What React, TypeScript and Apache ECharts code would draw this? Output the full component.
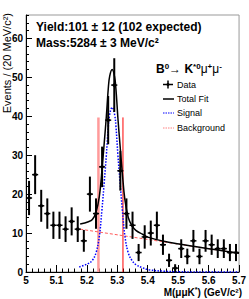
import React, { useEffect, useRef } from "react";
import * as echarts from "echarts";

const FONT = "'Liberation Sans', Arial, Helvetica, sans-serif";

// Histogram bins (20 MeV wide) — centres, counts, errors
const binCenters = [
  5.01, 5.03, 5.05, 5.07, 5.09, 5.11, 5.13, 5.15, 5.17, 5.19,
  5.21, 5.23, 5.25, 5.27, 5.29, 5.31, 5.33, 5.35, 5.37, 5.39,
  5.41, 5.43, 5.45, 5.47, 5.49, 5.51, 5.53, 5.55, 5.57, 5.59,
  5.61, 5.63, 5.65, 5.67, 5.69,
];
const counts = [
  19, 25, 17, 15, 12, 12, 11, 13, 11, 8,
  20, 15, 27, 39, 48, 26, 15, 12, 5, 9,
  10, 12, 7, 3, 1, 6, 4, 8, 4, 8,
  7, 6, 6, 5, 5,
];
const errors = [
  4.4, 5.0, 4.1, 3.9, 3.5, 3.5, 3.3, 3.6, 3.3, 2.8,
  4.5, 3.9, 5.2, 6.2, 6.9, 5.1, 3.9, 3.5, 2.2, 3.0,
  3.2, 3.5, 2.6, 1.7, 1.0, 2.4, 2.0, 2.8, 2.0, 2.8,
  2.6, 2.4, 2.4, 2.2, 2.2,
];
const binHalfWidth = 0.01;

// Signal curve (blue dotted)
const sigX = [5.175, 5.205, 5.218, 5.23, 5.241, 5.2495, 5.2575, 5.264, 5.2705, 5.275, 5.283, 5.291, 5.2955, 5.302, 5.3085, 5.3165, 5.325, 5.336, 5.348, 5.361, 5.383, 5.403, 5.453, 5.503, 5.55, 5.7];
const sigY = [1.3, 2.2, 3.0, 4.9, 9.2, 16, 23.5, 30, 37.4, 40.5, 42.3, 40.5, 37.4, 30, 23.5, 16, 9.2, 4.9, 3.0, 1.9, 1.1, 0.6, 0.2, 0.05, 0, 0];

// Total fit (black)
const totX = [5.178, 5.205, 5.218, 5.23, 5.241, 5.2495, 5.2575, 5.264, 5.2705, 5.275, 5.283, 5.291, 5.2955, 5.302, 5.3085, 5.3165, 5.325, 5.336, 5.348, 5.361, 5.383, 5.403, 5.453, 5.503, 5.55, 5.6, 5.65, 5.7];
const totY = [12.3, 12.9, 13.5, 15.3, 19.4, 26.1, 33.6, 40.0, 47.3, 50.3, 52.0, 50.2, 47.0, 39.5, 33.0, 25.4, 18.5, 14.0, 11.9, 10.7, 9.7, 8.9, 7.9, 7.2, 6.6, 6.0, 5.4, 4.8];

// Background (red dashed straight line)
const bgX = [5.178, 5.7];
const bgY = [11.0, 4.8];

// Signal window lines
const windowLo = 5.238;
const windowHi = 5.3186;
const windowTop = 39.7;

const yMajor = [0, 10, 20, 30, 40, 50, 60];

const zip = (xs: number[], ys: number[]) => xs.map((x, i) => [x, ys[i]]);

export default function App() {
  const ref = useRef<HTMLDivElement>(null);
  useEffect(() => {
    const chart = echarts.init(ref.current!, null, { renderer: "svg" });
    const axisLineStyle = { color: "#000", width: 1 };
    const option: any = {
      animation: false,
      backgroundColor: "#fff",
      grid: { left: 26, right: 7, top: 15, bottom: 27, show: true, borderColor: "#999", borderWidth: 1, backgroundColor: "transparent" },
      xAxis: {
        type: "value", min: 5.0, max: 5.7, interval: 0.1,
        axisLine: { onZero: false, lineStyle: axisLineStyle },
        axisTick: { inside: true, length: 7, lineStyle: axisLineStyle },
        minorTick: { show: true, splitNumber: 5, length: 3.5, lineStyle: axisLineStyle },
        axisLabel: {
          formatter: (v: number) => String(Math.round(v * 10) / 10),
          fontWeight: "bold", fontSize: 10, color: "#000", fontFamily: FONT, margin: 3,
          showMinLabel: true, showMaxLabel: true,
        },
        splitLine: { show: false },
      },
      yAxis: [
        {
          type: "value", min: 0, max: 66, interval: 2,
          axisLine: { onZero: false, lineStyle: axisLineStyle },
          axisTick: { inside: true, length: 6, lineStyle: axisLineStyle, customValues: yMajor },
          axisLabel: { customValues: yMajor, fontWeight: "bold", fontSize: 10, color: "#000", fontFamily: FONT, margin: 3 },
          splitLine: { show: false },
        },
        {
          type: "value", min: 0, max: 66, interval: 2, position: "left",
          axisLine: { show: false },
          axisTick: { inside: true, length: 3, lineStyle: axisLineStyle },
          axisLabel: { show: false },
          splitLine: { show: false },
        },
      ],
      series: [
        {
          type: "line", data: [[windowLo, 0], [windowLo, windowTop]], symbol: "none", z: 2,
          lineStyle: { color: "#ff9a9a", width: 2.5 },
        },
        {
          type: "line", data: [[windowHi, 0], [windowHi, windowTop]], symbol: "none", z: 2,
          lineStyle: { color: "#ff0000", width: 1 },
        },
        {
          type: "line", data: zip(bgX, bgY), symbol: "none", z: 3,
          lineStyle: { color: "#ff5a5a", width: 1, type: [3, 2] },
        },
        {
          type: "line", data: zip(sigX, sigY), symbol: "none", smooth: 0.4, z: 4,
          lineStyle: { color: "#0000ff", width: 1.5, type: [1.5, 1.5] },
        },
        {
          type: "line", data: zip(totX, totY), symbol: "none", smooth: 0.4, z: 5,
          lineStyle: { color: "#000", width: 1.5 },
        },
        {
          type: "custom", z: 10,
          data: binCenters.map((x, i) => [x, counts[i], errors[i]]),
          encode: { x: 0, y: 1 },
          renderItem: (params: any, api: any) => {
            const x = api.value(0), y = api.value(1), e = api.value(2);
            const c = api.coord([x, y]);
            const t = api.coord([x, y + e]);
            const b = api.coord([x, Math.max(0, y - e)]);
            const l = api.coord([x - binHalfWidth, y]);
            const r = api.coord([x + binHalfWidth, y]);
            return {
              type: "group",
              children: [
                { type: "line", shape: { x1: c[0], y1: t[1], x2: c[0], y2: b[1] }, style: { stroke: "#000", lineWidth: 2 } },
                { type: "line", shape: { x1: l[0], y1: c[1], x2: r[0], y2: c[1] }, style: { stroke: "#000", lineWidth: 1.5 } },
                { type: "circle", shape: { cx: c[0], cy: c[1], r: 1.8 }, style: { fill: "#000" } },
              ],
            };
          },
        },
      ],
      graphic: [
        {
          type: "text", x: 36, y: 27,
          style: { text: "Yield:101 ± 12 (102 expected)", font: `bold 12px ${FONT}`, fill: "#000", verticalAlign: "middle" },
        },
        {
          type: "text", x: 36, y: 43,
          style: { text: "Mass:5284 ± 3 MeV/c²", font: `bold 12px ${FONT}`, fill: "#000", verticalAlign: "middle" },
        },
        {
          type: "text", x: 7, y: 13, rotation: Math.PI / 2,
          style: { text: "Events / (20 MeV/c²)", font: `11px ${FONT}`, fill: "#000", align: "right", verticalAlign: "middle" },
        },
        {
          type: "text", x: 242, y: 292,
          style: {
            text: "{a|M(μμK}{s|*}{a|) (GeV/c²)}", align: "right", verticalAlign: "middle", fill: "#000",
            rich: {
              a: { fontSize: 10, fontFamily: FONT, fontWeight: "bold", fill: "#000", lineHeight: 12 },
              s: { fontSize: 7, fontFamily: FONT, fontWeight: "bold", fill: "#000", verticalAlign: "top", lineHeight: 8 },
            },
          },
        },
        {
          type: "text", x: 156, y: 69,
          style: {
            text: "{b|B}{s|0}{a|→ }{b|K}{s|*0}{a|μ}{s|+}{a|μ}{s|-}", verticalAlign: "middle", fill: "#000",
            rich: {
              b: { fontSize: 12, fontFamily: FONT, fontWeight: "bold", fill: "#000", lineHeight: 14 },
              a: { fontSize: 12, fontFamily: FONT, fill: "#000", lineHeight: 14 },
              s: { fontSize: 8, fontFamily: FONT, fontWeight: "bold", fill: "#000", verticalAlign: "top", lineHeight: 9 },
            },
          },
        },
        // legend: Data
        { type: "line", shape: { x1: 163, y1: 84.5, x2: 173, y2: 84.5 }, style: { stroke: "#000", lineWidth: 1.5 } },
        { type: "line", shape: { x1: 168, y1: 80.5, x2: 168, y2: 88.5 }, style: { stroke: "#000", lineWidth: 1.5 } },
        { type: "circle", shape: { cx: 168, cy: 84.5, r: 1.5 }, style: { fill: "#000" } },
        { type: "text", x: 177, y: 85, style: { text: "Data", font: `9px ${FONT}`, fill: "#000", verticalAlign: "middle" } },
        // legend: Total Fit
        { type: "line", shape: { x1: 163, y1: 99, x2: 174, y2: 99 }, style: { stroke: "#000", lineWidth: 1.5 } },
        { type: "text", x: 177, y: 99, style: { text: "Total Fit", font: `9px ${FONT}`, fill: "#000", verticalAlign: "middle" } },
        // legend: Signal
        { type: "line", shape: { x1: 163, y1: 113, x2: 174, y2: 113 }, style: { stroke: "#0000ff", lineWidth: 1, lineDash: [1.5, 1] } },
        { type: "text", x: 177, y: 113, style: { text: "Signal", font: `9px ${FONT}`, fill: "#000", verticalAlign: "middle" } },
        // legend: Background
        { type: "line", shape: { x1: 163, y1: 128, x2: 174, y2: 128 }, style: { stroke: "#ff8080", lineWidth: 1, lineDash: [1.5, 1] } },
        { type: "text", x: 177, y: 128, style: { text: "Background", font: `9px ${FONT}`, fill: "#000", verticalAlign: "middle" } },
      ],
    };
    chart.setOption(option);
    return () => chart.dispose();
  }, []);
  return (
    <div
      ref={ref}
      style={{ position: "fixed", left: 0, top: 0, width: 249, height: 299, background: "#fff" }}
    />
  );
}
